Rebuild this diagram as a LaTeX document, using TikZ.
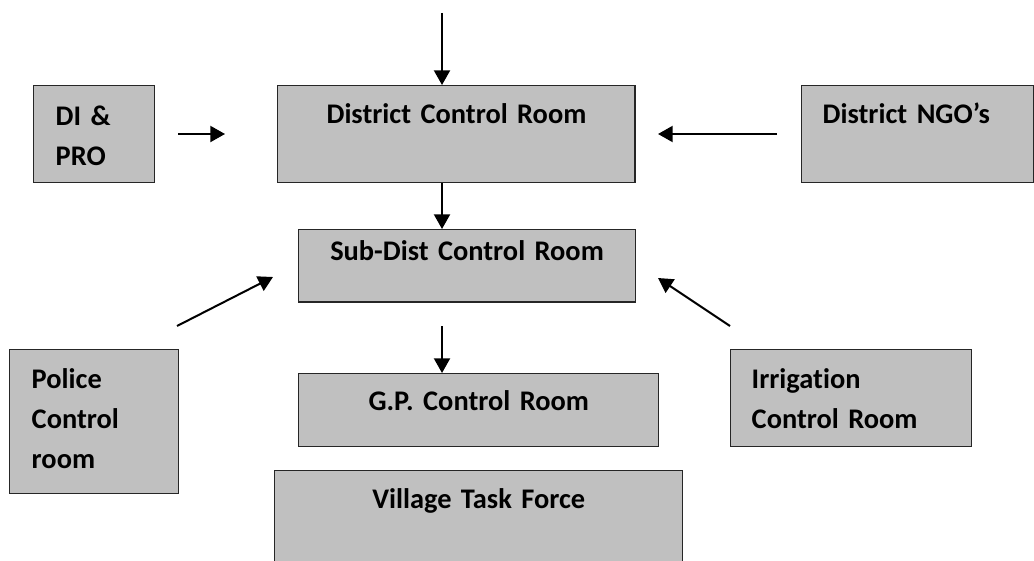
\documentclass[tikz,border=0pt]{standalone}
\usepackage{fontspec}
\setmainfont{Carlito}[Ligatures=NoCommon,WordSpace=0.85]
\usepackage{tikz}
\usetikzlibrary{arrows.meta}
\definecolor{boxgray}{HTML}{C0C0C0}
\tikzset{
  box/.style={draw=black!85,line width=1.1pt,fill=boxgray,anchor=north west,inner ysep=0pt,
    font=\fontsize{21.3}{30}\selectfont\bfseries},
  lbox/.style={box,align=left},
  cbox/.style={box,align=center,inner xsep=0pt},
  arr/.style={line width=1.5pt,-{Triangle[length=11pt,width=12pt]}}
}

\begin{document}
\begin{tikzpicture}[x=0.75pt,y=-0.75pt]
  \useasboundingbox (0,0) rectangle (1034,560);
  \node[lbox,inner xsep=16.5pt,text width=57.75pt,text height=30pt,text depth=42.4pt] (dipro) at (33,85) {DI \&\\PRO};
  \node[cbox,text width=268.1pt,text height=28.5pt,text depth=44.25pt] (dcr) at (277,85) {District Control Room};
  \node[lbox,inner xsep=15.75pt,text width=142.5pt,text height=28.5pt,text depth=44.25pt] (ngo) at (801,85) {District NGO’s};
  \node[cbox,text width=252.4pt,text height=23.25pt,text depth=31.1pt] (sub) at (298,229) {Sub-Dist Control Room};
  \node[cbox,text width=270pt,text height=27.75pt,text depth=27pt] (gp) at (298,373) {G.P. Control Room};
  \node[cbox,text width=306pt,text height=28.5pt,text depth=54pt] (vtf) at (274,470) {Village Task Force};
  \node[lbox,inner xsep=16.5pt,text width=93.75pt,text height=29.25pt,text depth=78.75pt] (police) at (9,349) {Police\\Control\\room};
  \node[lbox,inner xsep=15.75pt,text width=149.25pt,text height=29.25pt,text depth=43.5pt] (irr) at (730,349) {Irrigation\\Control Room};

  \coordinate (top) at (442,13);
  \coordinate (dpa) at (178,134);
  \coordinate (dpb) at (225,134);
  \coordinate (nga) at (777,134);
  \coordinate (ngb) at (658,134);
  \coordinate (pca) at (177,326);
  \coordinate (pcb) at (273,277);
  \coordinate (ira) at (730,326);
  \coordinate (irb) at (658,278);
  \coordinate (sga) at (442,326);

  \draw[arr] (top) -- (top |- dcr.north);
  \draw[arr] (dpa) -- (dpb);
  \draw[arr] (nga) -- (ngb);
  \draw[arr] (top |- dcr.south) -- (top |- sub.north);
  \draw[arr] (pca) -- (pcb);
  \draw[arr] (ira) -- (irb);
  \draw[arr] (sga) -- (sga |- gp.north);
\end{tikzpicture}
\end{document}
